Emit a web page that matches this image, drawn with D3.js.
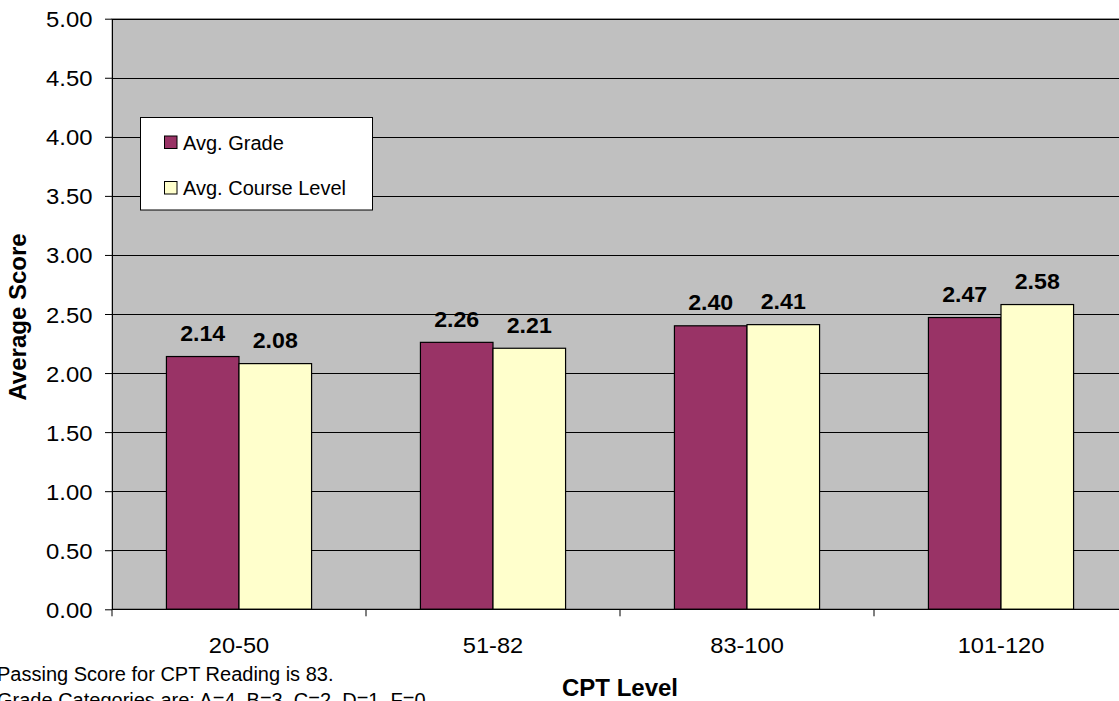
<!DOCTYPE html>
<html>
<head>
<meta charset="utf-8">
<script src="https://cdn.jsdelivr.net/npm/d3@7"></script>
<style>
  html, body { margin: 0; padding: 0; background: #fff; }
  svg { display: block; font-family: Arial, "Liberation Sans", sans-serif; }
</style>
</head>
<body>
<svg id="chart" width="1119" height="701"></svg>
<script>
// CPT level groups and the two averaged measures per group
const categories = ["20-50", "51-82", "83-100", "101-120"];
const seriesNames = ["Avg. Grade", "Avg. Course Level"];
const avgGrade = [2.14, 2.26, 2.40, 2.47];
const avgCourseLevel = [2.08, 2.21, 2.41, 2.58];
const yTicks = [0, 0.5, 1, 1.5, 2, 2.5, 3, 3.5, 4, 4.5, 5];
const footnotes = [
  "Passing Score for CPT Reading is 83.",
  "Grade Categories are: A=4, B=3, C=2, D=1, F=0"
];

const seriesValues = [avgGrade, avgCourseLevel];
const colors = ["#993366", "#FFFFCC"];

const svg = d3.select("#chart");
const plot = { left: 112, right: 1128, top: 18.7, bottom: 609.3 };

const x = d3.scaleBand().domain(categories).range([plot.left, plot.right]).padding(0);
const xs = d3.scaleBand().domain(seriesNames).range([0, x.bandwidth()])
  .paddingInner(0).paddingOuter(0.75);
const y = d3.scaleLinear().domain([0, 5]).range([plot.bottom, plot.top]);

// plot background
svg.append("rect")
  .attr("x", plot.left).attr("y", plot.top)
  .attr("width", plot.right - plot.left).attr("height", plot.bottom - plot.top)
  .attr("fill", "#C0C0C0").attr("stroke", "#808080").attr("stroke-width", 1);

// horizontal gridlines
svg.append("g").selectAll("line").data(yTicks).join("line")
  .attr("x1", plot.left).attr("x2", plot.right)
  .attr("y1", d => Math.round(y(d)) + 0.5).attr("y2", d => Math.round(y(d)) + 0.5)
  .attr("stroke", "#000").attr("stroke-width", 1);

// bars
const groups = svg.append("g").selectAll("g").data(categories).join("g")
  .attr("transform", c => `translate(${x(c)},0)`);

groups.selectAll("rect")
  .data((c, i) => seriesNames.map((s, k) => ({ s, k, v: seriesValues[k][i] })))
  .join("rect")
  .attr("x", d => xs(d.s))
  .attr("y", d => y(d.v))
  .attr("width", xs.bandwidth())
  .attr("height", d => y(0) - y(d.v))
  .attr("fill", d => colors[d.k])
  .attr("stroke", "#000").attr("stroke-width", 1.2);

// value labels above bars
groups.selectAll("text")
  .data((c, i) => seriesNames.map((s, k) => ({ s, k, v: seriesValues[k][i] })))
  .join("text")
  .attr("transform", d => `translate(${xs(d.s) + xs.bandwidth() / 2},${y(d.v) - 15.5}) scale(1.03,1)`)
  .attr("text-anchor", "middle")
  .attr("font-size", 22.5).attr("font-weight", "bold").attr("fill", "#000")
  .text(d => d.v.toFixed(2));

// y axis
const yAxis = svg.append("g")
  .attr("transform", `translate(${plot.left},0)`)
  .call(d3.axisLeft(y).tickValues(yTicks).tickFormat(d3.format(".2f")).tickSize(7).tickSizeOuter(0));
yAxis.select(".domain").attr("stroke", "#000");
yAxis.selectAll(".tick line").attr("stroke", "#000");
yAxis.selectAll(".tick text")
  .attr("x", null).attr("dy", null)
  .attr("transform", "translate(-19.5,8) scale(1.06,1)")
  .attr("text-anchor", "end")
  .attr("font-size", 22.5).attr("font-family", "Arial, 'Liberation Sans', sans-serif")
  .attr("fill", "#000");

// x axis: ticks sit on category boundaries
const xAxisG = svg.append("g").attr("transform", `translate(0,${plot.bottom})`);
xAxisG.append("line")
  .attr("x1", plot.left).attr("x2", plot.right).attr("y1", 0).attr("y2", 0)
  .attr("stroke", "#000");
xAxisG.selectAll("line.tk").data(categories).join("line").attr("class", "tk")
  .attr("x1", c => x(c)).attr("x2", c => x(c)).attr("y1", 0).attr("y2", 7)
  .attr("stroke", "#000");
xAxisG.selectAll("text").data(categories).join("text")
  .attr("transform", c => `translate(${x(c) + x.bandwidth() / 2},44) scale(1.05,1)`)
  .attr("text-anchor", "middle")
  .attr("font-size", 22.5).attr("fill", "#000")
  .text(c => c);

// axis titles
svg.append("text")
  .attr("transform", `translate(620,696)`)
  .attr("text-anchor", "middle")
  .attr("font-size", 24).attr("font-weight", "bold")
  .text("CPT Level");
svg.append("text")
  .attr("transform", `translate(26,317) rotate(-90)`)
  .attr("text-anchor", "middle")
  .attr("font-size", 24).attr("font-weight", "bold")
  .text("Average Score");

// legend
const legend = svg.append("g");
legend.append("rect")
  .attr("x", 140.5).attr("y", 117.5).attr("width", 232).attr("height", 92.5)
  .attr("fill", "#fff").attr("stroke", "#000").attr("stroke-width", 1);
const items = legend.selectAll("g.item").data(seriesNames).join("g").attr("class", "item")
  .attr("transform", (d, i) => `translate(0,${i * 45.5})`);
items.append("rect")
  .attr("x", 164.5).attr("y", 136).attr("width", 12.5).attr("height", 12.5)
  .attr("fill", (d, i) => colors[i]).attr("stroke", "#000").attr("stroke-width", 1);
items.append("text")
  .attr("x", 183).attr("y", 149.5)
  .attr("font-size", 20).attr("fill", "#000")
  .text(d => d);

// footnotes below the chart
svg.append("g").selectAll("text").data(footnotes).join("text")
  .attr("x", -3).attr("y", (d, i) => 680.7 + i * 26)
  .attr("font-size", 20).attr("fill", "#000")
  .text(d => d);
</script>
</body>
</html>
